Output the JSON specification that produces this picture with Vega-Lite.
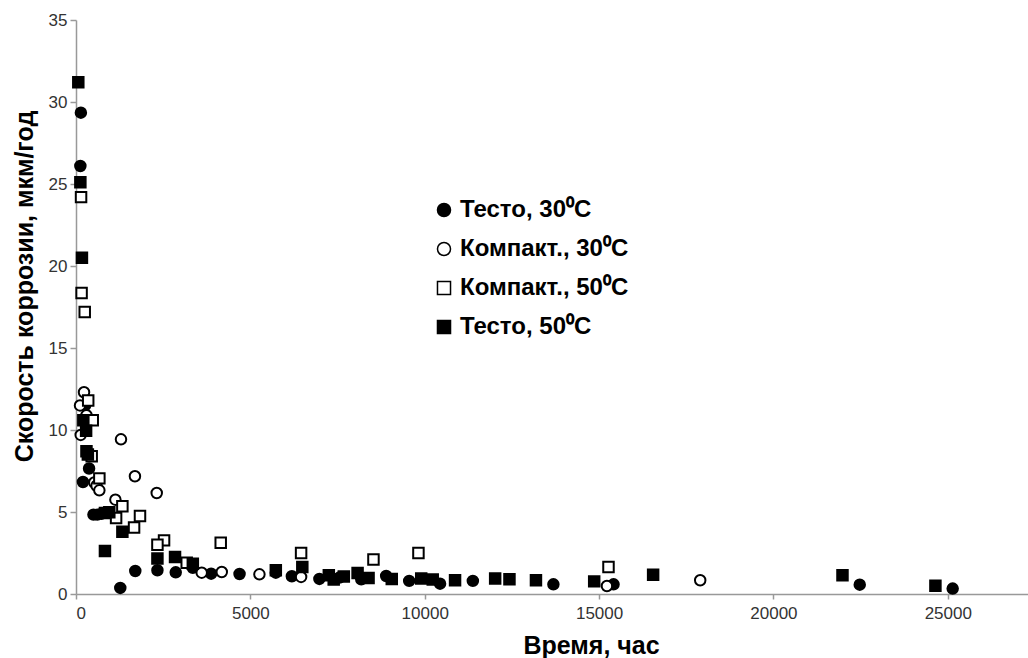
{
  "$schema": "https://vega.github.io/schema/vega-lite/v6.json",
  "width": 952,
  "height": 574,
  "autosize": {"type": "none"},
  "padding": {"left": 76, "top": 20, "right": 0, "bottom": 64},
  "background": "white",
  "config": {
    "view": {"stroke": null},
    "font": "Liberation Sans"
  },
  "data": {
    "values": [
      {"t": 140, "v": 29.35, "s": "Тесто, 30⁰C"},
      {"t": 125, "v": 26.1, "s": "Тесто, 30⁰C"},
      {"t": 260, "v": 11.5, "s": "Тесто, 30⁰C"},
      {"t": 375, "v": 7.65, "s": "Тесто, 30⁰C"},
      {"t": 200, "v": 6.83, "s": "Тесто, 30⁰C"},
      {"t": 500, "v": 4.84, "s": "Тесто, 30⁰C"},
      {"t": 610, "v": 4.84, "s": "Тесто, 30⁰C"},
      {"t": 735, "v": 4.9, "s": "Тесто, 30⁰C"},
      {"t": 1270, "v": 0.37, "s": "Тесто, 30⁰C"},
      {"t": 1700, "v": 1.4, "s": "Тесто, 30⁰C"},
      {"t": 2335, "v": 1.45, "s": "Тесто, 30⁰C"},
      {"t": 2860, "v": 1.32, "s": "Тесто, 30⁰C"},
      {"t": 3350, "v": 1.6, "s": "Тесто, 30⁰C"},
      {"t": 3875, "v": 1.24, "s": "Тесто, 30⁰C"},
      {"t": 4690, "v": 1.22, "s": "Тесто, 30⁰C"},
      {"t": 5730, "v": 1.3, "s": "Тесто, 30⁰C"},
      {"t": 6190, "v": 1.08, "s": "Тесто, 30⁰C"},
      {"t": 6980, "v": 0.92, "s": "Тесто, 30⁰C"},
      {"t": 7555, "v": 1.0, "s": "Тесто, 30⁰C"},
      {"t": 8180, "v": 0.9, "s": "Тесто, 30⁰C"},
      {"t": 8895, "v": 1.1, "s": "Тесто, 30⁰C"},
      {"t": 9555, "v": 0.8, "s": "Тесто, 30⁰C"},
      {"t": 10440, "v": 0.63, "s": "Тесто, 30⁰C"},
      {"t": 11380, "v": 0.8, "s": "Тесто, 30⁰C"},
      {"t": 13690, "v": 0.59, "s": "Тесто, 30⁰C"},
      {"t": 15415, "v": 0.59, "s": "Тесто, 30⁰C"},
      {"t": 22475, "v": 0.57, "s": "Тесто, 30⁰C"},
      {"t": 25140, "v": 0.33, "s": "Тесто, 30⁰C"},

      {"t": 230, "v": 12.3, "s": "Компакт., 30⁰C"},
      {"t": 115, "v": 11.5, "s": "Компакт., 30⁰C"},
      {"t": 300, "v": 10.9, "s": "Компакт., 30⁰C"},
      {"t": 135, "v": 9.7, "s": "Компакт., 30⁰C"},
      {"t": 1290, "v": 9.43, "s": "Компакт., 30⁰C"},
      {"t": 1690, "v": 7.18, "s": "Компакт., 30⁰C"},
      {"t": 525, "v": 6.8, "s": "Компакт., 30⁰C"},
      {"t": 590, "v": 6.6, "s": "Компакт., 30⁰C"},
      {"t": 670, "v": 6.32, "s": "Компакт., 30⁰C"},
      {"t": 2315, "v": 6.16, "s": "Компакт., 30⁰C"},
      {"t": 1130, "v": 5.75, "s": "Компакт., 30⁰C"},
      {"t": 3605, "v": 1.3, "s": "Компакт., 30⁰C"},
      {"t": 4180, "v": 1.34, "s": "Компакт., 30⁰C"},
      {"t": 5260, "v": 1.2, "s": "Компакт., 30⁰C"},
      {"t": 6455, "v": 1.04, "s": "Компакт., 30⁰C"},
      {"t": 15225, "v": 0.49, "s": "Компакт., 30⁰C"},
      {"t": 17900, "v": 0.84, "s": "Компакт., 30⁰C"},

      {"t": 145, "v": 24.2, "s": "Компакт., 50⁰C"},
      {"t": 160, "v": 18.35, "s": "Компакт., 50⁰C"},
      {"t": 250, "v": 17.2, "s": "Компакт., 50⁰C"},
      {"t": 350, "v": 11.8, "s": "Компакт., 50⁰C"},
      {"t": 480, "v": 10.6, "s": "Компакт., 50⁰C"},
      {"t": 450, "v": 8.4, "s": "Компакт., 50⁰C"},
      {"t": 670, "v": 7.05, "s": "Компакт., 50⁰C"},
      {"t": 1330, "v": 5.35, "s": "Компакт., 50⁰C"},
      {"t": 1835, "v": 4.76, "s": "Компакт., 50⁰C"},
      {"t": 1150, "v": 4.63, "s": "Компакт., 50⁰C"},
      {"t": 1665, "v": 4.05, "s": "Компакт., 50⁰C"},
      {"t": 2525, "v": 3.27, "s": "Компакт., 50⁰C"},
      {"t": 2335, "v": 3.0, "s": "Компакт., 50⁰C"},
      {"t": 4150, "v": 3.13, "s": "Компакт., 50⁰C"},
      {"t": 3175, "v": 1.9, "s": "Компакт., 50⁰C"},
      {"t": 6455, "v": 2.5, "s": "Компакт., 50⁰C"},
      {"t": 8530, "v": 2.1, "s": "Компакт., 50⁰C"},
      {"t": 9820, "v": 2.5, "s": "Компакт., 50⁰C"},
      {"t": 15270, "v": 1.65, "s": "Компакт., 50⁰C"},

      {"t": 66, "v": 31.2, "s": "Тесто, 50⁰C"},
      {"t": 125, "v": 25.1, "s": "Тесто, 50⁰C"},
      {"t": 170, "v": 20.5, "s": "Тесто, 50⁰C"},
      {"t": 210, "v": 10.6, "s": "Тесто, 50⁰C"},
      {"t": 290, "v": 9.95, "s": "Тесто, 50⁰C"},
      {"t": 300, "v": 8.7, "s": "Тесто, 50⁰C"},
      {"t": 340, "v": 8.5, "s": "Тесто, 50⁰C"},
      {"t": 830, "v": 4.94, "s": "Тесто, 50⁰C"},
      {"t": 955, "v": 4.98, "s": "Тесто, 50⁰C"},
      {"t": 1330, "v": 3.8, "s": "Тесто, 50⁰C"},
      {"t": 830, "v": 2.62, "s": "Тесто, 50⁰C"},
      {"t": 2335, "v": 2.16, "s": "Тесто, 50⁰C"},
      {"t": 2840, "v": 2.26, "s": "Тесто, 50⁰C"},
      {"t": 3350, "v": 1.85, "s": "Тесто, 50⁰C"},
      {"t": 5730, "v": 1.45, "s": "Тесто, 50⁰C"},
      {"t": 6490, "v": 1.65, "s": "Тесто, 50⁰C"},
      {"t": 7250, "v": 1.14, "s": "Тесто, 50⁰C"},
      {"t": 7390, "v": 0.88, "s": "Тесто, 50⁰C"},
      {"t": 7680, "v": 1.06, "s": "Тесто, 50⁰C"},
      {"t": 8075, "v": 1.28, "s": "Тесто, 50⁰C"},
      {"t": 8390, "v": 0.98, "s": "Тесто, 50⁰C"},
      {"t": 9055, "v": 0.92, "s": "Тесто, 50⁰C"},
      {"t": 9900, "v": 0.94, "s": "Тесто, 50⁰C"},
      {"t": 10230, "v": 0.88, "s": "Тесто, 50⁰C"},
      {"t": 10870, "v": 0.84, "s": "Тесто, 50⁰C"},
      {"t": 12020, "v": 0.94, "s": "Тесто, 50⁰C"},
      {"t": 12430, "v": 0.9, "s": "Тесто, 50⁰C"},
      {"t": 13190, "v": 0.84, "s": "Тесто, 50⁰C"},
      {"t": 14860, "v": 0.77, "s": "Тесто, 50⁰C"},
      {"t": 16550, "v": 1.18, "s": "Тесто, 50⁰C"},
      {"t": 21980, "v": 1.14, "s": "Тесто, 50⁰C"},
      {"t": 24645, "v": 0.51, "s": "Тесто, 50⁰C"}
    ]
  },
  "mark": {"type": "point", "filled": false, "stroke": "black", "strokeWidth": 2, "size": 110, "opacity": 1},
  "encoding": {
    "x": {
      "field": "t", "type": "quantitative",
      "scale": {"domain": [0, 27300], "nice": false},
      "axis": {
        "title": "Время, час",
        "values": [0, 5000, 10000, 15000, 20000, 25000],
        "format": "d",
        "grid": false,
        "domainColor": "#999", "domainWidth": 1.5,
        "tickColor": "#999", "tickSize": 5, "tickWidth": 1.5,
        "labelFontSize": 17, "labelColor": "#333", "labelPadding": 6,
        "titleFontSize": 25, "titleFontWeight": "bold", "titleColor": "black",
        "titleX": 515, "titleY": 51, "titleBaseline": "middle"
      }
    },
    "y": {
      "field": "v", "type": "quantitative",
      "scale": {"domain": [0, 35], "nice": false},
      "axis": {
        "title": "Скорость коррозии, мкм/год",
        "values": [0, 5, 10, 15, 20, 25, 30, 35],
        "grid": false,
        "domainColor": "#999", "domainWidth": 1.5,
        "tickColor": "#999", "tickSize": 6, "tickWidth": 1.5,
        "labelFontSize": 17, "labelColor": "#333", "labelPadding": 3,
        "titleFontSize": 25, "titleFontWeight": "bold", "titleColor": "black",
        "titleX": -52, "titleY": 266, "titleBaseline": "middle"
      }
    },
    "shape": {
      "field": "s", "type": "nominal",
      "scale": {
        "domain": ["Тесто, 30⁰C", "Компакт., 30⁰C", "Компакт., 50⁰C", "Тесто, 50⁰C"],
        "range": ["circle", "circle", "square", "square"]
      },
      "legend": {
        "title": null,
        "orient": "none",
        "legendX": 356,
        "legendY": 178,
        "labelFontSize": 24,
        "labelFontWeight": "bold",
        "labelColor": "black",
        "labelLimit": 0,
        "symbolSize": 170,
        "labelOffset": 4,
        "rowPadding": 15,
        "encode": {"symbols": {"update": {"stroke": {"value": "black"}, "strokeWidth": {"value": 2.2}}}}
      }
    },
    "fill": {
      "field": "s", "type": "nominal",
      "scale": {
        "domain": ["Тесто, 30⁰C", "Компакт., 30⁰C", "Компакт., 50⁰C", "Тесто, 50⁰C"],
        "range": ["black", "white", "white", "black"]
      },
      "legend": {
        "title": null,
        "orient": "none",
        "legendX": 356,
        "legendY": 178,
        "labelFontSize": 24,
        "labelFontWeight": "bold",
        "labelColor": "black",
        "labelLimit": 0,
        "symbolSize": 170,
        "labelOffset": 4,
        "rowPadding": 15,
        "encode": {"symbols": {"update": {"stroke": {"value": "black"}, "strokeWidth": {"value": 2.2}}}}
      }
    }
  }
}
